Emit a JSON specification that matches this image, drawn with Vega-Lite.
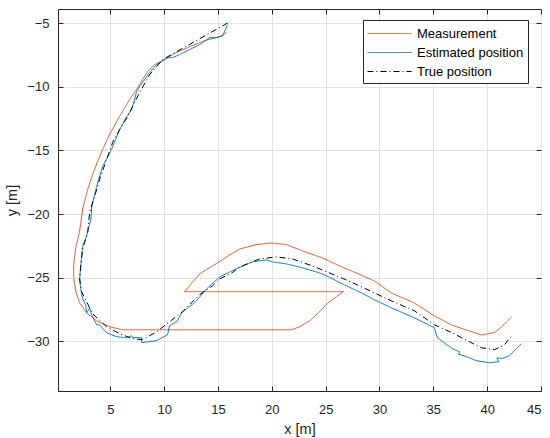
{
  "$schema": "https://vega.github.io/schema/vega-lite/v6.json",
  "width": 483,
  "height": 382,
  "autosize": {"type": "none"},
  "padding": {"left": 58, "top": 9, "right": 9, "bottom": 47},
  "background": "white",
  "config": {
    "font": "Liberation Sans",
    "view": {"stroke": "#262626", "strokeWidth": 1},
    "axis": {
      "domainColor": "#262626",
      "tickColor": "#262626",
      "labelColor": "#262626",
      "titleColor": "#262626",
      "labelFont": "Liberation Sans",
      "titleFont": "Liberation Sans",
      "labelFontSize": 13,
      "titleFontSize": 14.5,
      "titleFontWeight": "normal",
      "gridColor": "#e3e3e3",
      "gridOpacity": 1,
      "tickSize": -5,
      "labelPadding": 14
    }
  },
  "data": {
    "values": [
      {"s":"Measurement","i":0,"x":15.8,"y":-5.75},
      {"s":"Measurement","i":1,"x":15.15,"y":-6.07},
      {"s":"Measurement","i":2,"x":13.75,"y":-6.39},
      {"s":"Measurement","i":3,"x":12.36,"y":-6.86},
      {"s":"Measurement","i":4,"x":10.97,"y":-7.4},
      {"s":"Measurement","i":5,"x":10.04,"y":-7.87},
      {"s":"Measurement","i":6,"x":9.11,"y":-8.27},
      {"s":"Measurement","i":7,"x":8.46,"y":-8.81},
      {"s":"Measurement","i":8,"x":8.0,"y":-9.44},
      {"s":"Measurement","i":9,"x":7.44,"y":-10.22},
      {"s":"Measurement","i":10,"x":6.79,"y":-11.0},
      {"s":"Measurement","i":11,"x":6.24,"y":-11.79},
      {"s":"Measurement","i":12,"x":5.59,"y":-12.73},
      {"s":"Measurement","i":13,"x":4.94,"y":-13.75},
      {"s":"Measurement","i":14,"x":4.29,"y":-14.92},
      {"s":"Measurement","i":15,"x":3.82,"y":-15.86},
      {"s":"Measurement","i":16,"x":3.36,"y":-16.88},
      {"s":"Measurement","i":17,"x":2.9,"y":-18.05},
      {"s":"Measurement","i":18,"x":2.43,"y":-19.62},
      {"s":"Measurement","i":19,"x":2.15,"y":-21.34},
      {"s":"Measurement","i":20,"x":1.78,"y":-22.67},
      {"s":"Measurement","i":21,"x":1.6,"y":-24.0},
      {"s":"Measurement","i":22,"x":1.6,"y":-25.02},
      {"s":"Measurement","i":23,"x":1.78,"y":-26.04},
      {"s":"Measurement","i":24,"x":2.15,"y":-26.98},
      {"s":"Measurement","i":25,"x":2.8,"y":-27.76},
      {"s":"Measurement","i":26,"x":3.73,"y":-28.39},
      {"s":"Measurement","i":27,"x":4.94,"y":-28.86},
      {"s":"Measurement","i":28,"x":6.15,"y":-29.09},
      {"s":"Measurement","i":29,"x":21.84,"y":-29.09},
      {"s":"Measurement","i":30,"x":22.57,"y":-28.86},
      {"s":"Measurement","i":31,"x":23.5,"y":-28.4},
      {"s":"Measurement","i":32,"x":24.4,"y":-27.7},
      {"s":"Measurement","i":33,"x":25.2,"y":-26.98},
      {"s":"Measurement","i":34,"x":26.0,"y":-26.5},
      {"s":"Measurement","i":35,"x":26.65,"y":-26.1},
      {"s":"Measurement","i":36,"x":11.9,"y":-26.1},
      {"s":"Measurement","i":37,"x":13.29,"y":-24.7},
      {"s":"Measurement","i":38,"x":14.5,"y":-24.08},
      {"s":"Measurement","i":39,"x":15.8,"y":-23.37},
      {"s":"Measurement","i":40,"x":17.0,"y":-22.75},
      {"s":"Measurement","i":41,"x":18.6,"y":-22.4},
      {"s":"Measurement","i":42,"x":19.97,"y":-22.28},
      {"s":"Measurement","i":43,"x":21.36,"y":-22.4},
      {"s":"Measurement","i":44,"x":22.85,"y":-22.9},
      {"s":"Measurement","i":45,"x":24.7,"y":-23.45},
      {"s":"Measurement","i":46,"x":26.3,"y":-24.08},
      {"s":"Measurement","i":47,"x":28.3,"y":-24.8},
      {"s":"Measurement","i":48,"x":29.5,"y":-25.25},
      {"s":"Measurement","i":49,"x":31.1,"y":-26.2},
      {"s":"Measurement","i":50,"x":33.2,"y":-26.97},
      {"s":"Measurement","i":51,"x":35.1,"y":-28.0},
      {"s":"Measurement","i":52,"x":36.65,"y":-28.7},
      {"s":"Measurement","i":53,"x":38.2,"y":-29.15},
      {"s":"Measurement","i":54,"x":39.5,"y":-29.5},
      {"s":"Measurement","i":55,"x":40.7,"y":-29.3},
      {"s":"Measurement","i":56,"x":41.3,"y":-28.9},
      {"s":"Measurement","i":57,"x":42.25,"y":-28.1},

      {"s":"Estimated position","i":0,"x":15.89,"y":-5.13},
      {"s":"Estimated position","i":1,"x":15.7,"y":-5.52},
      {"s":"Estimated position","i":2,"x":15.43,"y":-6.0},
      {"s":"Estimated position","i":3,"x":14.87,"y":-6.15},
      {"s":"Estimated position","i":4,"x":14.22,"y":-6.15},
      {"s":"Estimated position","i":5,"x":13.29,"y":-6.7},
      {"s":"Estimated position","i":6,"x":12.36,"y":-7.09},
      {"s":"Estimated position","i":7,"x":11.44,"y":-7.48},
      {"s":"Estimated position","i":8,"x":10.79,"y":-7.72},
      {"s":"Estimated position","i":9,"x":10.32,"y":-7.72},
      {"s":"Estimated position","i":10,"x":9.76,"y":-8.03},
      {"s":"Estimated position","i":11,"x":9.3,"y":-8.27},
      {"s":"Estimated position","i":12,"x":8.65,"y":-8.89},
      {"s":"Estimated position","i":13,"x":8.18,"y":-9.44},
      {"s":"Estimated position","i":14,"x":7.72,"y":-9.99},
      {"s":"Estimated position","i":15,"x":7.44,"y":-10.38},
      {"s":"Estimated position","i":16,"x":7.26,"y":-11.0},
      {"s":"Estimated position","i":17,"x":6.98,"y":-11.79},
      {"s":"Estimated position","i":18,"x":6.52,"y":-12.34},
      {"s":"Estimated position","i":19,"x":5.87,"y":-13.36},
      {"s":"Estimated position","i":20,"x":5.12,"y":-14.92},
      {"s":"Estimated position","i":21,"x":4.29,"y":-16.25},
      {"s":"Estimated position","i":22,"x":3.73,"y":-17.82},
      {"s":"Estimated position","i":23,"x":3.27,"y":-19.39},
      {"s":"Estimated position","i":24,"x":3.2,"y":-20.4},
      {"s":"Estimated position","i":25,"x":2.8,"y":-21.73},
      {"s":"Estimated position","i":26,"x":2.43,"y":-22.52},
      {"s":"Estimated position","i":27,"x":2.34,"y":-23.3},
      {"s":"Estimated position","i":28,"x":2.25,"y":-24.08},
      {"s":"Estimated position","i":29,"x":2.15,"y":-25.1},
      {"s":"Estimated position","i":30,"x":2.25,"y":-25.89},
      {"s":"Estimated position","i":31,"x":2.43,"y":-26.67},
      {"s":"Estimated position","i":32,"x":2.71,"y":-27.13},
      {"s":"Estimated position","i":33,"x":2.8,"y":-27.76},
      {"s":"Estimated position","i":34,"x":3.08,"y":-27.37},
      {"s":"Estimated position","i":35,"x":3.27,"y":-27.92},
      {"s":"Estimated position","i":36,"x":3.73,"y":-28.7},
      {"s":"Estimated position","i":37,"x":4.0,"y":-28.7},
      {"s":"Estimated position","i":38,"x":4.66,"y":-29.33},
      {"s":"Estimated position","i":39,"x":5.59,"y":-29.64},
      {"s":"Estimated position","i":40,"x":6.52,"y":-29.72},
      {"s":"Estimated position","i":41,"x":6.98,"y":-29.56},
      {"s":"Estimated position","i":42,"x":7.07,"y":-29.72},
      {"s":"Estimated position","i":43,"x":7.91,"y":-29.72},
      {"s":"Estimated position","i":44,"x":7.91,"y":-30.1},
      {"s":"Estimated position","i":45,"x":9.3,"y":-29.95},
      {"s":"Estimated position","i":46,"x":10.32,"y":-29.48},
      {"s":"Estimated position","i":47,"x":10.5,"y":-28.78},
      {"s":"Estimated position","i":48,"x":11.16,"y":-28.46},
      {"s":"Estimated position","i":49,"x":11.7,"y":-27.68},
      {"s":"Estimated position","i":50,"x":12.36,"y":-27.29},
      {"s":"Estimated position","i":51,"x":13.0,"y":-26.82},
      {"s":"Estimated position","i":52,"x":13.94,"y":-25.88},
      {"s":"Estimated position","i":53,"x":15.15,"y":-24.94},
      {"s":"Estimated position","i":54,"x":16.72,"y":-24.3},
      {"s":"Estimated position","i":55,"x":18.2,"y":-23.76},
      {"s":"Estimated position","i":56,"x":19.5,"y":-23.6},
      {"s":"Estimated position","i":57,"x":20.05,"y":-23.76},
      {"s":"Estimated position","i":58,"x":21.36,"y":-23.92},
      {"s":"Estimated position","i":59,"x":22.57,"y":-24.16},
      {"s":"Estimated position","i":60,"x":24.15,"y":-24.55},
      {"s":"Estimated position","i":61,"x":24.9,"y":-24.78},
      {"s":"Estimated position","i":62,"x":26.75,"y":-25.57},
      {"s":"Estimated position","i":63,"x":28.33,"y":-26.2},
      {"s":"Estimated position","i":64,"x":29.53,"y":-26.74},
      {"s":"Estimated position","i":65,"x":31.1,"y":-27.37},
      {"s":"Estimated position","i":66,"x":33.24,"y":-28.15},
      {"s":"Estimated position","i":67,"x":35.1,"y":-28.94},
      {"s":"Estimated position","i":68,"x":35.38,"y":-29.72},
      {"s":"Estimated position","i":69,"x":36.77,"y":-30.58},
      {"s":"Estimated position","i":70,"x":37.5,"y":-30.85},
      {"s":"Estimated position","i":71,"x":37.3,"y":-31.0},
      {"s":"Estimated position","i":72,"x":38.07,"y":-31.2},
      {"s":"Estimated position","i":73,"x":39.0,"y":-31.52},
      {"s":"Estimated position","i":74,"x":40.2,"y":-31.68},
      {"s":"Estimated position","i":75,"x":41.1,"y":-31.6},
      {"s":"Estimated position","i":76,"x":40.9,"y":-31.3},
      {"s":"Estimated position","i":77,"x":41.4,"y":-31.35},
      {"s":"Estimated position","i":78,"x":42.06,"y":-31.13},
      {"s":"Estimated position","i":79,"x":42.7,"y":-30.58},
      {"s":"Estimated position","i":80,"x":43.17,"y":-30.2},

      {"s":"True position","i":0,"x":15.9,"y":-5.0},
      {"s":"True position","i":1,"x":9.86,"y":-7.87},
      {"s":"True position","i":2,"x":9.3,"y":-8.42},
      {"s":"True position","i":3,"x":8.65,"y":-9.05},
      {"s":"True position","i":4,"x":7.72,"y":-10.46},
      {"s":"True position","i":5,"x":7.07,"y":-11.55},
      {"s":"True position","i":6,"x":6.61,"y":-12.34},
      {"s":"True position","i":7,"x":5.87,"y":-13.36},
      {"s":"True position","i":8,"x":5.22,"y":-14.37},
      {"s":"True position","i":9,"x":4.66,"y":-15.7},
      {"s":"True position","i":10,"x":4.01,"y":-17.27},
      {"s":"True position","i":11,"x":3.55,"y":-18.6},
      {"s":"True position","i":12,"x":3.08,"y":-19.85},
      {"s":"True position","i":13,"x":2.9,"y":-21.42},
      {"s":"True position","i":14,"x":2.43,"y":-22.75},
      {"s":"True position","i":15,"x":2.25,"y":-24.08},
      {"s":"True position","i":16,"x":2.15,"y":-25.1},
      {"s":"True position","i":17,"x":2.34,"y":-26.12},
      {"s":"True position","i":18,"x":2.8,"y":-26.9},
      {"s":"True position","i":19,"x":3.36,"y":-27.84},
      {"s":"True position","i":20,"x":4.66,"y":-28.86},
      {"s":"True position","i":21,"x":5.87,"y":-29.4},
      {"s":"True position","i":22,"x":7.08,"y":-29.8},
      {"s":"True position","i":23,"x":8.0,"y":-29.87},
      {"s":"True position","i":24,"x":9.3,"y":-29.25},
      {"s":"True position","i":25,"x":10.5,"y":-28.46},
      {"s":"True position","i":26,"x":11.7,"y":-27.68},
      {"s":"True position","i":27,"x":13.29,"y":-26.34},
      {"s":"True position","i":28,"x":14.5,"y":-25.64},
      {"s":"True position","i":29,"x":15.15,"y":-25.1},
      {"s":"True position","i":30,"x":16.35,"y":-24.6},
      {"s":"True position","i":31,"x":17.0,"y":-24.16},
      {"s":"True position","i":32,"x":18.86,"y":-23.53},
      {"s":"True position","i":33,"x":20.44,"y":-23.37},
      {"s":"True position","i":34,"x":21.92,"y":-23.53},
      {"s":"True position","i":35,"x":23.78,"y":-24.08},
      {"s":"True position","i":36,"x":24.9,"y":-24.47},
      {"s":"True position","i":37,"x":26.47,"y":-25.02},
      {"s":"True position","i":38,"x":27.96,"y":-25.57},
      {"s":"True position","i":39,"x":29.53,"y":-26.2},
      {"s":"True position","i":40,"x":31.1,"y":-26.82},
      {"s":"True position","i":41,"x":33.24,"y":-27.6},
      {"s":"True position","i":42,"x":35.1,"y":-28.7},
      {"s":"True position","i":43,"x":36.67,"y":-29.3},
      {"s":"True position","i":44,"x":38.16,"y":-29.95},
      {"s":"True position","i":45,"x":39.46,"y":-30.5},
      {"s":"True position","i":46,"x":40.67,"y":-30.66},
      {"s":"True position","i":47,"x":41.6,"y":-30.27},
      {"s":"True position","i":48,"x":42.34,"y":-29.5}
    ]
  },
  "layer": [
    {
      "mark": {"type": "line", "strokeWidth": 1, "clip": true},
      "encoding": {
        "x": {
          "field": "x", "type": "quantitative",
          "scale": {"domain": [0.14, 45], "nice": false, "zero": false},
          "axis": {"title": "x [m]", "values": [5,10,15,20,25,30,35,40,45], "grid": true, "labelPadding": 17, "titlePadding": 6}
        },
        "y": {
          "field": "y", "type": "quantitative",
          "scale": {"domain": [-33.9, -3.9], "nice": false, "zero": false},
          "axis": {"title": "y [m]", "values": [-30,-25,-20,-15,-10,-5], "grid": true, "labelPadding": 14, "titlePadding": 7}
        },
        "order": {"field": "i", "type": "quantitative"},
        "color": {
          "field": "s", "type": "nominal",
          "scale": {"domain": ["Measurement","Estimated position","True position"], "range": ["#D95319","#0072BD","#000000"]},
          "legend": {
            "title": null, "orient": "none", "legendX": 305, "legendY": 11,
            "fillColor": "white", "strokeColor": "#262626", "padding": 4,
            "labelFontSize": 13, "labelColor": "#000000", "labelFont": "Liberation Sans",
            "symbolType": "M-1,0H3.9", "symbolSize": 324, "symbolStrokeWidth": 1,
            "rowPadding": 2, "labelOffset": 31
          }
        },
        "strokeDash": {
          "field": "s", "type": "nominal",
          "scale": {"domain": ["Measurement","Estimated position","True position"], "range": [[1,0],[1,0],[6,3,1,3]]},
          "legend": {
            "title": null, "orient": "none", "legendX": 305, "legendY": 11,
            "fillColor": "white", "strokeColor": "#262626", "padding": 4,
            "labelFontSize": 13, "labelColor": "#000000", "labelFont": "Liberation Sans",
            "symbolType": "M-1,0H3.9", "symbolSize": 324, "symbolStrokeWidth": 1,
            "rowPadding": 2, "labelOffset": 31
          }
        }
      }
    },
    {
      "mark": {"type": "point", "opacity": 0},
      "encoding": {
        "x": {"field": "x", "type": "quantitative", "axis": {"orient": "top", "title": null, "labels": false, "domain": false, "grid": false, "values": [5,10,15,20,25,30,35,40,45]}},
        "y": {"field": "y", "type": "quantitative", "axis": {"orient": "right", "title": null, "labels": false, "domain": false, "grid": false, "values": [-30,-25,-20,-15,-10,-5]}}
      }
    }
  ],
  "resolve": {"axis": {"x": "independent", "y": "independent"}}
}
